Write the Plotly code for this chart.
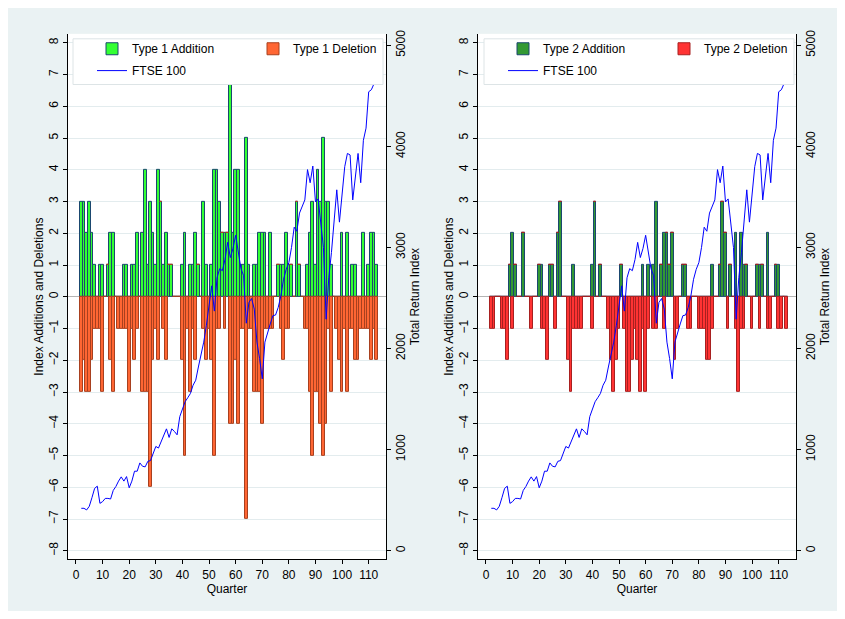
import plotly.graph_objects as go

# page body has an 8px margin, so the figure is 829x603 drawn at (8, 8)
W, H = 829, 603
OFF = 8

quarters = list(range(2, 114))

type1_addition = [
    3, 3, 2, 3, 2, 1, 0, 1, 1, 0,
    1, 2, 2, 0, 0, 0, 1, 1, 0, 1,
    1, 2, 0, 2, 4, 1, 3, 2, 1, 4,
    3, 1, 2, 1, 1, 0, 0, 0, 1, 2,
    0, 1, 1, 2, 1, 0, 3, 1, 0, 1,
    4, 4, 3, 2, 2, 2, 7, 2, 4, 4,
    1, 1, 5, 1, 0, 1, 1, 2, 2, 2,
    0, 2, 0, 0, 1, 1, 1, 2, 1, 1,
    0, 3, 1, 0, 0, 1, 2, 3, 1, 4,
    3, 5, 3, 3, 1, 0, 0, 0, 2, 0,
    2, 0, 1, 1, 0, 0, 2, 0, 1, 2,
    2, 1]

type1_deletion = [
    -3, -2, -3, -3, -2, -1, -1, -1, -3, 0,
    0, -2, -3, 0, -1, -1, -1, -1, -3, -1,
    -2, -1, 0, -3, -3, -3, -6, -2, -1, -2,
    0, -1, -2, 0, 0, 0, 0, 0, -2, -5,
    -1, -3, -1, -2, 0, 0, -1, -2, -1, -2,
    -5, -1, -1, 0, -1, 0, -4, -4, -2, -4,
    -1, -1, -7, -1, -1, -3, -3, -3, -4, -1,
    -1, -1, -1, 0, 0, -1, -2, -1, -1, 0,
    0, 0, 0, 0, -1, -1, -3, -5, -3, -3,
    -4, -5, -4, -1, -3, 0, -1, -2, -3, -1,
    -3, -1, -1, -2, -2, -1, -1, -1, -1, -2,
    -1, -2]

type2_addition = [
    0, 0, 0, 0, 0, 0, 0, 1, 2, 1,
    0, 0, 2, 0, 0, 0, 0, 0, 1, 1,
    0, 0, 1, 1, 0, 2, 3, 0, 0, 0,
    0, 1, 0, 0, 0, 0, 0, 0, 1, 3,
    0, 1, 0, 0, 0, 0, 0, 0, 0, 1,
    0, 0, 0, 0, 0, 0, 0, 1, 0, 1,
    0, 1, 3, 0, 1, 2, 2, 1, 2, 0,
    0, 0, 1, 1, 0, 0, 0, 0, 0, 0,
    0, 0, 0, 1, 0, 0, 1, 3, 2, 0,
    1, 0, 2, 0, 2, 1, 1, 0, 0, 0,
    1, 1, 1, 0, 2, 0, 0, 1, 1, 0,
    0, 0]

type2_deletion = [
    -1, -1, 0, 0, -1, -1, -2, 0, -1, 0,
    0, 0, 0, 0, 0, -1, 0, 0, 0, -1,
    -1, -2, 0, 0, -1, 0, 0, 0, 0, -2,
    -3, -1, -1, -1, -1, 0, 0, 0, -1, 0,
    0, 0, 0, 0, -1, -2, -3, -2, -1, 0,
    -1, -3, -3, -2, -1, -2, -3, -1, -3, -1,
    0, -1, -1, 0, 0, -1, 0, 0, 0, -2,
    -1, 0, 0, 0, -1, -1, 0, 0, -1, -1,
    -1, -2, -2, -1, 0, 0, 0, 0, 0, -1,
    0, 0, -1, -3, -1, -1, 0, 0, -1, 0,
    0, -1, 0, 0, -1, -1, 0, 0, -1, -1,
    0, -1]

ftse_quarters = list(range(2, 113))
ftse_100 = [
    419, 419, 403, 439, 524, 616, 638, 468, 485, 517,
    517, 511, 596, 635, 688, 730, 688, 733, 622, 688,
    786, 786, 868, 835, 829, 884, 891, 966, 1031, 1015,
    1081, 1146, 1205, 1120, 1205, 1179, 1146, 1326, 1408, 1473,
    1513, 1555, 1637, 1686, 1817, 1932, 2063, 2230, 2450, 2620,
    2370, 2700, 2790, 2770, 2880, 3050, 2900, 2990, 3120, 2950,
    2790, 2720, 2250, 2456, 2495, 2390, 2063, 1900, 1700, 2063,
    2161, 2243, 2325, 2331, 2407, 2521, 2685, 2783, 2850, 3000,
    3200, 3160, 3340, 3410, 3470, 3770, 3640, 3805, 3450, 3480,
    3260, 3000, 2290, 2700, 2950, 3250, 3570, 3250, 3540, 3800,
    3930, 3915, 3470, 3730, 3930, 3640, 4060, 4180, 4540, 4560,
    4620]

x_ticks = list(range(0, 111, 10))
left_ticks = list(range(-8, 9))
right_ticks = list(range(0, 5001, 1000))

FONT = "Liberation Sans, Arial, sans-serif"
BG = "#EAF2F3"
GRID = "#E3ECEE"

def px(x):
    return (x - OFF) / W

def py(y):
    return 1 - (y - OFF) / H

fig = go.Figure()

panels = [
    dict(x="x", y="y", y2="y2", add=type1_addition, dele=type1_deletion,
         add_name="Type 1 Addition", del_name="Type 1 Deletion",
         add_col="#33FF33", add_line="#1A476F", del_col="#FF6633", del_line="#A8401F",
         leg1="legend", leg2="legend2"),
    dict(x="x2", y="y3", y2="y4", add=type2_addition, dele=type2_deletion,
         add_name="Type 2 Addition", del_name="Type 2 Deletion",
         add_col="#339933", add_line="#1A476F", del_col="#FF3333", del_line="#A82020",
         leg1="legend3", leg2="legend4"),
]

for p in panels:
    fig.add_trace(go.Bar(x=quarters, y=p["add"], width=1, name=p["add_name"],
                         marker=dict(color=p["add_col"], line=dict(color=p["add_line"], width=1)),
                         xaxis=p["x"], yaxis=p["y"], legend=p["leg1"]))
    fig.add_trace(go.Bar(x=quarters, y=p["dele"], width=1, name=p["del_name"],
                         marker=dict(color=p["del_col"], line=dict(color=p["del_line"], width=1)),
                         xaxis=p["x"], yaxis=p["y"], legend=p["leg1"]))
    fig.add_trace(go.Scatter(x=ftse_quarters, y=ftse_100, mode="lines", name="FTSE 100",
                             line=dict(color="#0000FF", width=1),
                             xaxis=p["x"], yaxis=p["y2"], legend=p["leg2"]))

ydom = [py(559), py(30)]
xdom1 = [px(68), px(386)]
xdom2 = [px(478), px(796)]

def xaxis(domain, anchor):
    return dict(domain=domain, anchor=anchor, range=[-3, 116.5], tickvals=x_ticks,
                ticks="outside", ticklen=4, tickcolor="#000", showline=True, linecolor="#000",
                linewidth=1, showgrid=False, zeroline=False,
                tickfont=dict(family=FONT, size=12, color="#000"),
                title=dict(text="Quarter", font=dict(family=FONT, size=12, color="#000"), standoff=0))

def yleft(anchor):
    return dict(domain=ydom, anchor=anchor, range=[-8.27, 8.28], tickvals=left_ticks,
                tickangle=-90, ticks="outside", ticklen=4, tickcolor="#000",
                showline=True, linecolor="#000", linewidth=1,
                showgrid=True, gridcolor=GRID, gridwidth=1,
                zeroline=True, zerolinecolor="#B4B4B4", zerolinewidth=1,
                tickfont=dict(family=FONT, size=12, color="#000"),
                title=dict(text="Index Additions and Deletions",
                           font=dict(family=FONT, size=12, color="#000"), standoff=0))

def yright(anchor, over):
    return dict(overlaying=over, side="right", anchor=anchor, range=[-86, 5113],
                tickvals=right_ticks, tickangle=-90, ticks="outside", ticklen=4, tickcolor="#000",
                showline=True, linecolor="#000", linewidth=1, showgrid=False, zeroline=False,
                tickfont=dict(family=FONT, size=12, color="#000"),
                title=dict(text="Total Return Index",
                           font=dict(family=FONT, size=12, color="#000"), standoff=0))

def legend(xpix, ycen):
    return dict(x=px(xpix), y=py(ycen), xanchor="left", yanchor="middle",
                orientation="h", bgcolor="rgba(0,0,0,0)", borderwidth=0,
                entrywidth=116, entrywidthmode="pixels",
                font=dict(family=FONT, size=12, color="#000"), traceorder="normal",
                itemclick=False, itemdoubleclick=False)

shapes = [
    dict(type="rect", xref="paper", yref="paper", x0=px(73), x1=px(383), y0=py(81), y1=py(35),
         fillcolor="#FFFFFF", line=dict(color="#DDE4E6", width=1), layer="above"),
    dict(type="rect", xref="paper", yref="paper", x0=px(484), x1=px(794), y0=py(81), y1=py(35),
         fillcolor="#FFFFFF", line=dict(color="#DDE4E6", width=1), layer="above"),
]

fig.update_layout(
    width=W, height=H, margin=dict(l=0, r=0, t=0, b=0),
    paper_bgcolor=BG, plot_bgcolor="#FFFFFF",
    barmode="relative", bargap=0,
    font=dict(family=FONT, size=12, color="#000"),
    xaxis=xaxis(xdom1, "y"),
    xaxis2=xaxis(xdom2, "y3"),
    yaxis=yleft("x"),
    yaxis2=yright("x", "y"),
    yaxis3=yleft("x2"),
    yaxis4=yright("x2", "y3"),
    legend=legend(92, 45),
    legend2=legend(92, 67),
    legend3=legend(503, 45),
    legend4=legend(503, 67),
    shapes=shapes,
    showlegend=True,
)

fig.write_html("out.html")
